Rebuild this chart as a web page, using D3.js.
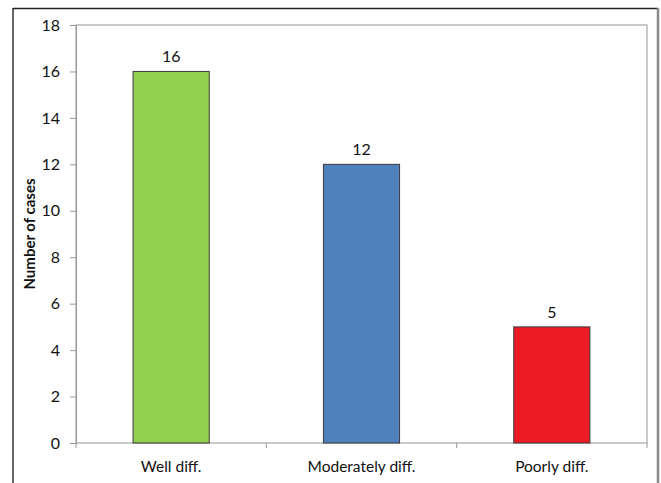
<!DOCTYPE html>
<html>
<head>
<meta charset="utf-8">
<script src="https://cdn.jsdelivr.net/npm/d3@7"></script>
<style>
  body { margin: 0; background: #fff; }
  svg { display: block; font-family: Lato, "Open Sans", sans-serif; }
</style>
</head>
<body>
<div class="canvas"></div>
<script>
const categories = ['Well diff.', 'Moderately diff.', 'Poorly diff.']
const cases = [16, 12, 5]
const barColors = ['#92d050', '#4f81bd', '#ed1c24']
const yTicks = [0, 2, 4, 6, 8, 10, 12, 14, 16, 18]

const svgWidth = 661
const svgHeight = 483
const margin = {top: 25, right: 14, bottom: 40, left: 76}
const graphWidth = svgWidth - margin.left - margin.right
const graphHeight = svgHeight - margin.top - margin.bottom

const svg = d3.select('.canvas')
    .append('svg')
    .attr('width', svgWidth)
    .attr('height', svgHeight)

// outer frame
svg.append('line').attr('x1', 13).attr('x2', 13).attr('y1', 8).attr('y2', svgHeight)
    .attr('stroke', '#333').attr('stroke-width', 1.5)
svg.append('line').attr('x1', 13).attr('x2', 658).attr('y1', 8.5).attr('y2', 8.5)
    .attr('stroke', '#222').attr('stroke-width', 1.5)
svg.append('line').attr('x1', 658).attr('x2', 658).attr('y1', 8).attr('y2', svgHeight)
    .attr('stroke', '#888').attr('stroke-width', 2.5)

const graph = svg.append('g')
    .attr('transform', `translate(${margin.left},${margin.top})`)

const x = d3.scaleBand()
    .domain(categories)
    .range([0, graphWidth])
    .paddingInner(0.6)
    .paddingOuter(0.3)

const xBand = d3.scaleBand()
    .domain(categories)
    .range([0, graphWidth])

const y = d3.scaleLinear()
    .domain([0, 18])
    .range([graphHeight, 0])

// plot area border
graph.append('rect')
    .attr('x', 0).attr('y', 0)
    .attr('width', graphWidth).attr('height', graphHeight)
    .attr('fill', 'none')
    .attr('stroke', '#a6a6a6')
    .attr('stroke-width', 1.2)

const yAxis = graph.append('g')
    .call(d3.axisLeft(y).tickValues(yTicks).tickSize(6).tickPadding(10))
yAxis.select('.domain').attr('stroke', '#999')
yAxis.selectAll('line').attr('stroke', '#999')
yAxis.selectAll('text').attr('font-size', 16).attr('fill', '#111').attr('font-family', 'Lato, sans-serif')

// category boundary ticks
graph.selectAll('.catTick')
    .data(categories.concat(['end']))
    .join('line')
    .attr('class', 'catTick')
    .attr('x1', (d, i) => i * xBand.bandwidth())
    .attr('x2', (d, i) => i * xBand.bandwidth())
    .attr('y1', graphHeight)
    .attr('y2', graphHeight + 5)
    .attr('stroke', '#999')

graph.selectAll('.bar')
    .data(cases)
    .join('rect')
    .attr('class', 'bar')
    .attr('x', (d, i) => x(categories[i]))
    .attr('y', d => y(d))
    .attr('width', x.bandwidth())
    .attr('height', d => graphHeight - y(d))
    .attr('fill', (d, i) => barColors[i])
    .attr('stroke', '#3a3a3a')
    .attr('stroke-width', 1)

graph.selectAll('.valueLabel')
    .data(cases)
    .join('text')
    .attr('class', 'valueLabel')
    .attr('x', (d, i) => x(categories[i]) + x.bandwidth() / 2)
    .attr('y', d => y(d) - 9)
    .attr('text-anchor', 'middle')
    .attr('font-size', 16)
    .attr('fill', '#111')
    .text(d => d)

graph.selectAll('.catLabel')
    .data(categories)
    .join('text')
    .attr('class', 'catLabel')
    .attr('x', d => xBand(d) + xBand.bandwidth() / 2)
    .attr('y', graphHeight + 29)
    .attr('text-anchor', 'middle')
    .attr('font-size', 15.5)
    .attr('fill', '#111')
    .text(d => d)

svg.append('text')
    .attr('transform', `translate(35,${margin.top + graphHeight / 2}) rotate(-90)`)
    .attr('text-anchor', 'middle')
    .attr('font-size', 15)
    .attr('font-weight', 'bold')
    .attr('fill', '#111')
    .text('Number of cases')
</script>
</body>
</html>
